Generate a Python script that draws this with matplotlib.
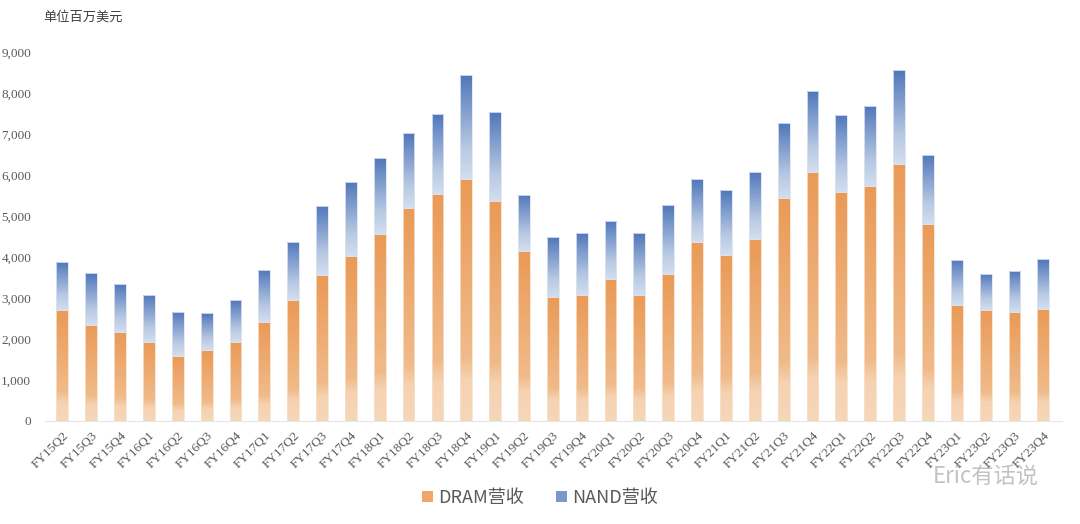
import matplotlib
matplotlib.use("Agg")
import matplotlib.pyplot as plt
from matplotlib.colors import LinearSegmentedColormap
from matplotlib.patches import Patch
from matplotlib.ticker import FuncFormatter
import numpy as np

plt.rcParams['font.family'] = ['Noto Sans CJK SC', 'DejaVu Sans']

# ---- data (million USD)
quarters = ["FY15Q2", "FY15Q3", "FY15Q4",
            "FY16Q1", "FY16Q2", "FY16Q3", "FY16Q4",
            "FY17Q1", "FY17Q2", "FY17Q3", "FY17Q4",
            "FY18Q1", "FY18Q2", "FY18Q3", "FY18Q4",
            "FY19Q1", "FY19Q2", "FY19Q3", "FY19Q4",
            "FY20Q1", "FY20Q2", "FY20Q3", "FY20Q4",
            "FY21Q1", "FY21Q2", "FY21Q3", "FY21Q4",
            "FY22Q1", "FY22Q2", "FY22Q3", "FY22Q4",
            "FY23Q1", "FY23Q2", "FY23Q3", "FY23Q4"]
total = [3880, 3610, 3330, 3080, 2660, 2630, 2940,
         3690, 4370, 5250, 5840, 6420, 7020, 7490, 8440,
         7540, 5520, 4490, 4590, 4880, 4590, 5260, 5890,
         5630, 6080, 7260, 8050, 7460, 7680, 8550, 6490,
         3930, 3590, 3670, 3940]
dram = [2700, 2350, 2170, 1930, 1580, 1730, 1930,
        2410, 2950, 3560, 4020, 4570, 5200, 5540, 5910,
        5370, 4150, 3030, 3070, 3460, 3080, 3580, 4370,
        4050, 4440, 5450, 6080, 5580, 5720, 6270, 4800,
        2820, 2710, 2660, 2740]
nand = [t - d for t, d in zip(total, dram)]

DRAM_CMAP = LinearSegmentedColormap.from_list(
    "dram", [(0.0, "#F6D7BA"), (0.17, "#F5D2B1"), (0.26, "#F0BB8A"), (1.0, "#EA9A56")])
NAND_CMAP = LinearSegmentedColormap.from_list(
    "nand", [(0.0, "#D3DEEF"), (0.3, "#B8C9E3"), (1.0, "#5077BA")])
grad = np.linspace(0, 1, 256).reshape(-1, 1)


def gradient_bars(ax, bars, cmap):
    for b in bars:
        x0, y0 = b.get_x(), b.get_y()
        w, h = b.get_width(), b.get_height()
        im = ax.imshow(grad, cmap=cmap, origin="lower", aspect="auto",
                       extent=(x0, x0 + w, y0, y0 + h), zorder=2,
                       interpolation="bilinear")
        im.set_clip_path(b)


fig = plt.figure(figsize=(10.8, 5.24), dpi=100)
ax = fig.add_axes([0.0417, 0.1966, 0.9417, 0.7042])

x = np.arange(len(quarters))
w = 0.41
b1 = ax.bar(x, dram, w, facecolor="none", edgecolor="#F8E0CA", linewidth=0.6, zorder=3)
b2 = ax.bar(x, nand, w, bottom=dram, facecolor="none", edgecolor="#DCE4F2", linewidth=0.6, zorder=3)
gradient_bars(ax, b1, DRAM_CMAP)
gradient_bars(ax, b2, NAND_CMAP)

ax.set_xlim(-0.6, len(quarters) - 0.35)
ax.set_ylim(0, 9000)
ax.set_yticks(np.arange(0, 9001, 1000))
ax.yaxis.set_major_formatter(FuncFormatter(lambda v, p: f"{int(v):,}"))
ax.set_xticks(x)
ax.set_xticklabels(quarters, rotation=45, ha="right", va="top",
                   rotation_mode="anchor", fontsize=9.5,
                   family="Liberation Serif", color="#595959")
for lab in ax.get_yticklabels():
    lab.set_family("Liberation Serif")
    lab.set_fontsize(9.5)
    lab.set_color("#595959")
ax.tick_params(axis="both", length=0)
ax.tick_params(axis="y", pad=10)
ax.tick_params(axis="x", pad=6)
for s in ["top", "right", "left"]:
    ax.spines[s].set_visible(False)
ax.spines["bottom"].set_color("#E6E6E6")
ax.spines["bottom"].set_linewidth(0.8)

fig.text(0.040, 0.967, "单位百万美元", fontsize=9.5, color="#404040", va="center")

handles = [Patch(facecolor="#EFA76A", edgecolor="none", label="DRAM营收"),
           Patch(facecolor="#7B97C9", edgecolor="none", label="NAND营收")]
fig.legend(handles=handles, loc="center", bbox_to_anchor=(0.5, 0.05), ncol=2,
           frameon=False, fontsize=13, labelcolor="#595959",
           handlelength=0.6, handleheight=0.6, handletextpad=0.3, columnspacing=1.8)

# watermark
fig.text(0.962, 0.09, "Eric有话说", fontsize=16, color="#9A9A9A", alpha=0.6,
         ha="right", va="center")

fig.savefig("out.png", dpi=100)
